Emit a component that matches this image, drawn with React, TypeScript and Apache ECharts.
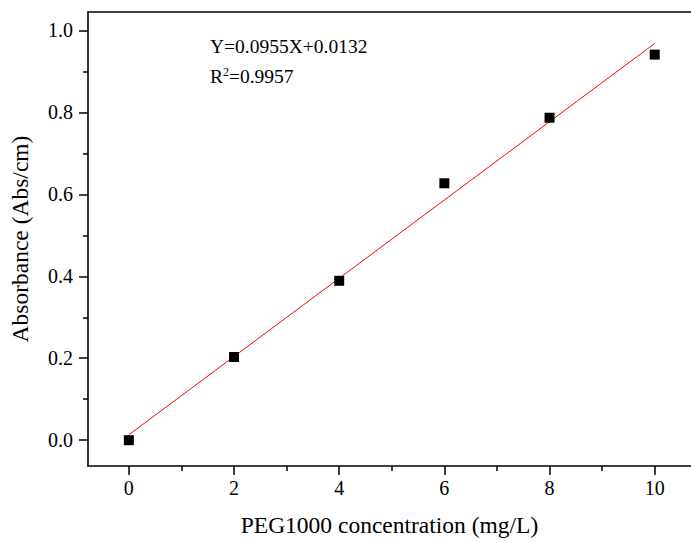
import React, { useEffect, useRef } from "react";
import * as echarts from "echarts";

const concentrations = [0, 2, 4, 6, 8, 10];
const absorbance = [0.0, 0.203, 0.389, 0.627, 0.787, 0.941];
const fitLine = [
  [0, 0.0132],
  [10, 0.9682],
];
const xMajorTicks = [0, 2, 4, 6, 8, 10];
const xMinorTicks = [1, 3, 5, 7, 9];
const yMajorTicks = [0, 0.2, 0.4, 0.6, 0.8, 1.0];
const yMinorTicks = [0.1, 0.3, 0.5, 0.7, 0.9];
const equationText = "Y=0.0955X+0.0132";
const r2Value = "=0.9957";

const FONT = "Liberation Serif";
const X_MIN = -0.777;
const X_MAX = 10.69;
const Y_MIN = -0.063;
const Y_MAX = 1.045;

export default function App() {
  const ref = useRef<HTMLDivElement>(null);
  useEffect(() => {
    const chart = echarts.init(ref.current!, null, { renderer: "svg" });
    const axisLine = { show: true, onZero: false, lineStyle: { color: "#000", width: 1.6 } };
    chart.setOption({
      animation: false,
      backgroundColor: "#fff",
      textStyle: { fontFamily: FONT },
      grid: { left: 86, top: 12, right: 0, bottom: 77 },
      xAxis: [
        {
          type: "value",
          min: X_MIN,
          max: X_MAX,
          position: "bottom",
          axisLine,
          splitLine: { show: false },
          axisTick: { show: true, customValues: xMajorTicks, length: 9, lineStyle: { color: "#000", width: 1.5 } },
          axisLabel: {
            customValues: xMajorTicks,
            color: "#000",
            fontFamily: FONT,
            fontSize: 20,
            margin: 12,
          },
          name: "PEG1000 concentration (mg/L)",
          nameLocation: "middle",
          nameGap: 47,
          nameTextStyle: { color: "#000", fontFamily: FONT, fontSize: 23.5 },
        },
        {
          type: "value",
          min: X_MIN,
          max: X_MAX,
          position: "bottom",
          axisLine: { show: false, onZero: false },
          splitLine: { show: false },
          axisTick: { show: true, customValues: xMinorTicks, length: 5, lineStyle: { color: "#000", width: 1.5 } },
          axisLabel: { show: false },
        },
        {
          type: "value",
          min: X_MIN,
          max: X_MAX,
          position: "top",
          axisLine,
          splitLine: { show: false },
          axisTick: { show: false },
          axisLabel: { show: false },
        },
      ],
      yAxis: [
        {
          type: "value",
          min: Y_MIN,
          max: Y_MAX,
          position: "left",
          axisLine,
          splitLine: { show: false },
          axisTick: { show: true, customValues: yMajorTicks, length: 9, lineStyle: { color: "#000", width: 1.5 } },
          axisLabel: {
            customValues: yMajorTicks,
            color: "#000",
            fontFamily: FONT,
            fontSize: 20,
            margin: 15,
            formatter: (v: number) => v.toFixed(1),
          },
          name: "Absorbance (Abs/cm)",
          nameLocation: "middle",
          nameGap: 56,
          nameTextStyle: { color: "#000", fontFamily: FONT, fontSize: 23.5 },
        },
        {
          type: "value",
          min: Y_MIN,
          max: Y_MAX,
          position: "left",
          axisLine: { show: false, onZero: false },
          splitLine: { show: false },
          axisTick: { show: true, customValues: yMinorTicks, length: 5, lineStyle: { color: "#000", width: 1.5 } },
          axisLabel: { show: false },
        },
      ],
      series: [
        {
          type: "line",
          data: fitLine,
          showSymbol: false,
          symbol: "none",
          lineStyle: { color: "#ff0000", width: 1 },
          z: 2,
        },
        {
          type: "scatter",
          data: concentrations.map((x, i) => [x, absorbance[i]]),
          symbol: "rect",
          symbolSize: 10,
          itemStyle: { color: "#000", opacity: 1 },
          z: 3,
        },
      ],
      graphic: [
        {
          type: "text",
          left: 210,
          top: 36,
          style: {
            text: equationText,
            fill: "#000",
            fontFamily: FONT,
            fontSize: 19.5,
          },
        },
        {
          type: "text",
          left: 210,
          top: 66,
          style: {
            text: "{a|R}{s|2}{a|" + r2Value + "}",
            rich: {
              a: { fill: "#000", fontFamily: FONT, fontSize: 19.5, verticalAlign: "bottom" },
              s: { fill: "#000", fontFamily: FONT, fontSize: 12, verticalAlign: "top", padding: [0, 0, 8, 0] },
            },
          },
        },
      ],
    });
    return () => chart.dispose();
  }, []);
  return <div ref={ref} style={{ width: 691, height: 543, position: "absolute", left: 0, top: 0 }} />;
}
